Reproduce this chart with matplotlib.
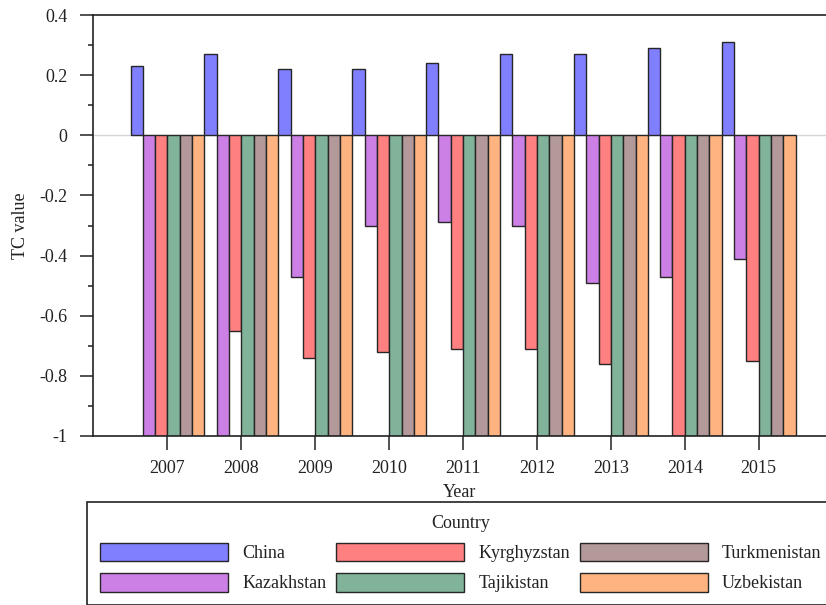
import matplotlib
matplotlib.use("Agg")
import matplotlib.pyplot as plt
import numpy as np
from matplotlib.ticker import MultipleLocator, FuncFormatter

years = ["2007", "2008", "2009", "2010", "2011", "2012", "2013", "2014", "2015"]
countries = ["China", "Kazakhstan", "Kyrghyzstan", "Tajikistan", "Turkmenistan", "Uzbekistan"]

china = [0.23, 0.27, 0.22, 0.22, 0.24, 0.27, 0.27, 0.29, 0.31]
kazakhstan = [-1.0, -1.0, -0.47, -0.30, -0.29, -0.30, -0.49, -0.47, -0.41]
kyrgyzstan = [-1.0, -0.65, -0.74, -0.72, -0.71, -0.71, -0.76, -1.0, -0.75]
tajikistan = [-1.0, -1.0, -1.0, -1.0, -1.0, -1.0, -1.0, -1.0, -1.0]
turkmenistan = [-1.0, -1.0, -1.0, -1.0, -1.0, -1.0, -1.0, -1.0, -1.0]
uzbekistan = [-1.0, -1.0, -1.0, -1.0, -1.0, -1.0, -1.0, -1.0, -1.0]

series = [china, kazakhstan, kyrgyzstan, tajikistan, turkmenistan, uzbekistan]
colors = ["#8080FF", "#CC80E6", "#FF8080", "#80B399", "#B39999", "#FFB380"]

plt.rcParams["font.family"] = ["Liberation Serif", "DejaVu Serif"]
plt.rcParams["axes.unicode_minus"] = False

ink = "#222222"
fig = plt.figure(figsize=(8.26, 6.05), dpi=100)
ax = fig.add_axes([93 / 826, 1 - 436 / 605, 733 / 826, 421 / 605])

n = len(series)
width = 1.0 / n
x = np.arange(len(years))
handles = []
for i, (vals, c, name) in enumerate(zip(series, colors, countries)):
    b = ax.bar(x + (i - (n - 1) / 2) * width, vals, width=width, color=c,
               edgecolor=(0.15, 0.15, 0.15), linewidth=1.0, label=name, zorder=2)
    handles.append(b)

ax.axhline(0, color="#d6d6d6", lw=1.0, zorder=1)

ax.set_xlim(-1.008, -1.008 + 733 / 73.9)
ax.set_ylim(-1.0, 0.4)
ax.set_xticks(x)
ax.set_xticklabels(years)
ax.yaxis.set_major_locator(MultipleLocator(0.2))
ax.yaxis.set_minor_locator(MultipleLocator(0.1))
ax.yaxis.set_major_formatter(FuncFormatter(lambda v, p: f"{round(v, 2):g}"))

for s in ["left", "bottom", "top"]:
    ax.spines[s].set_linewidth(1.2)
    ax.spines[s].set_color(ink)
ax.spines["right"].set_visible(False)

ax.tick_params(axis="y", which="major", length=9.5, width=1.1, pad=9,
               labelsize=13, colors=ink)
ax.tick_params(axis="y", which="minor", length=3.6, width=1.1, colors=ink)
ax.tick_params(axis="x", which="major", length=10, width=1.1, pad=7,
               labelsize=13, colors=ink)

ax.set_ylabel("TC value", fontsize=13, color=ink, labelpad=7)
ax.set_xlabel("Year", fontsize=13, color=ink, labelpad=5)

leg = fig.legend(handles=handles, labels=countries, ncol=3, title="Country",
                 loc="upper left", bbox_to_anchor=(87 / 826, 1 - 502 / 605),
                 bbox_transform=fig.transFigure, borderaxespad=0,
                 fontsize=13, title_fontsize=13,
                 handlelength=7.09, handleheight=1.2, handletextpad=0.78,
                 columnspacing=0.55, labelspacing=0.6, borderpad=0.72,
                 fancybox=False, framealpha=1, edgecolor=ink)
leg.get_frame().set_linewidth(1.2)
for t in leg.get_texts():
    t.set_color(ink)
leg.get_title().set_color(ink)

fig.savefig("out.png", dpi=100)
